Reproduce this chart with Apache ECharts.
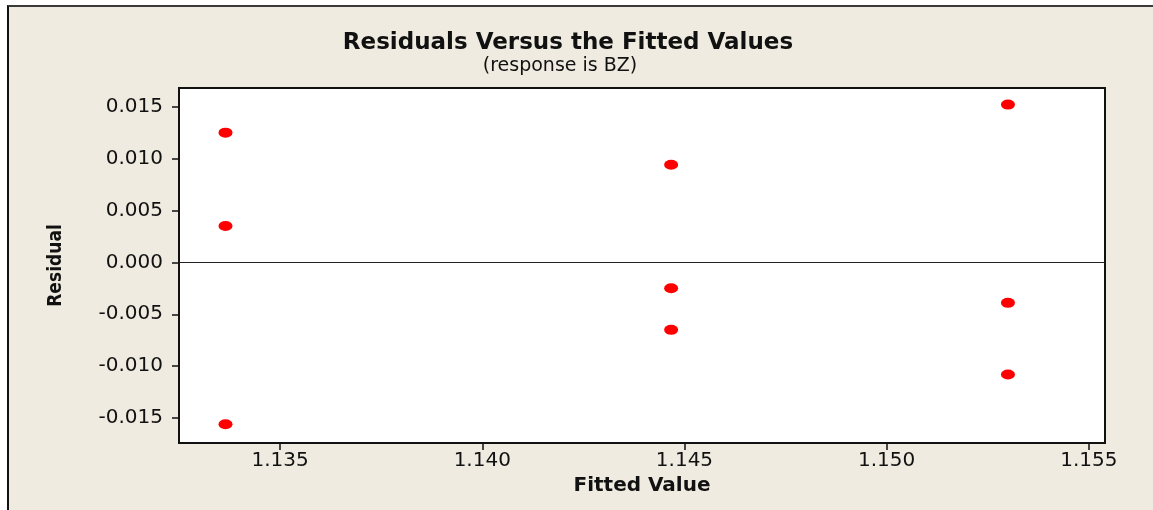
<!DOCTYPE html>
<html>
<head>
<meta charset="utf-8">
<script src="https://cdn.jsdelivr.net/npm/echarts@6/dist/echarts.min.js"></script>
<style>
  html, body { margin: 0; padding: 0; background: #fff; overflow: hidden; }
  .frame { position: absolute; left: 7px; top: 5px; width: 1144px; height: 503px;
           border-left: 2px solid #111; border-top: 2px solid #3a3a3a; background: #efebe1; }
  .frame .content { width: 1144px; height: 503px; }
</style>
</head>
<body>
<div class="frame"><div class="content"></div></div>
<script>
// fitted values and residuals (response is BZ)
let fitted = [1.13365, 1.13365, 1.13365, 1.14467, 1.14467, 1.14467, 1.15300, 1.15300, 1.15300]
let residual = [0.0125, 0.0035, -0.0156, 0.0094, -0.0025, -0.0065, 0.0152, -0.0039, -0.0108]
let xTicks = [1.135, 1.140, 1.145, 1.150, 1.155]
let yTicks = [-0.015, -0.010, -0.005, 0.000, 0.005, 0.010, 0.015]

let points = fitted.map((f, i) => [f, residual[i]])
let font = 'DejaVu Sans, Verdana, sans-serif'

let ResidOption = {
  animation: false,
  title: [{
    text: 'Residuals Versus the Fitted Values',
    left: 554,
    textAlign: 'center',
    top: 20,
    textStyle: { fontFamily: font, fontWeight: 'bold', fontSize: 23, color: '#111' }
  }, {
    text: '(response is BZ)',
    left: 546,
    textAlign: 'center',
    top: 45,
    textStyle: { fontFamily: font, fontWeight: 'normal', fontSize: 19, color: '#111' }
  }],
  grid: {
    left: 170, top: 81, width: 926, height: 355,
    show: true, backgroundColor: '#fff', borderColor: '#111', borderWidth: 2
  },
  xAxis: {
    type: 'value',
    min: 1.1325, max: 1.1554,
    name: 'Fitted Value',
    nameLocation: 'middle',
    nameGap: 32,
    nameTextStyle: { fontFamily: font, fontWeight: 'bold', fontSize: 20, color: '#111' },
    axisLine: { show: true, onZero: false, lineStyle: { color: '#111', width: 2 } },
    axisTick: { show: true, length: 7, customValues: xTicks, lineStyle: { color: '#111', width: 1.5 } },
    axisLabel: { customValues: xTicks, margin: 8, fontFamily: font, fontSize: 20, color: '#111',
                 formatter: v => v.toFixed(3) },
    splitLine: { show: false }
  },
  yAxis: {
    type: 'value',
    min: -0.0174, max: 0.0168,
    name: 'Residual',
    nameLocation: 'middle',
    nameGap: 113,
    nameRotate: 90,
    nameTextStyle: { fontFamily: 'DejaVu Sans Condensed, Liberation Sans Narrow, sans-serif',
                     fontWeight: 'bold', fontSize: 19, color: '#111' },
    axisLine: { show: true, onZero: false, lineStyle: { color: '#111', width: 2 } },
    axisTick: { show: true, length: 7, customValues: yTicks, lineStyle: { color: '#111', width: 1.5 } },
    axisLabel: { customValues: yTicks, margin: 16, fontFamily: font, fontSize: 20, color: '#111',
                 formatter: v => v.toFixed(3) },
    splitLine: { show: false }
  },
  series: [{
    type: 'scatter',
    data: points,
    symbol: 'circle',
    symbolSize: [14, 10],
    itemStyle: { color: '#ff0000', opacity: 1 },
    markLine: {
      silent: true,
      symbol: 'none',
      label: { show: false },
      lineStyle: { color: '#222', width: 1, type: 'solid' },
      data: [{ yAxis: 0 }]
    }
  }]
}

let oResid = document.querySelector('.frame .content')
let oResidChart = echarts.init(oResid)
oResidChart.setOption(ResidOption)
</script>
</body>
</html>
